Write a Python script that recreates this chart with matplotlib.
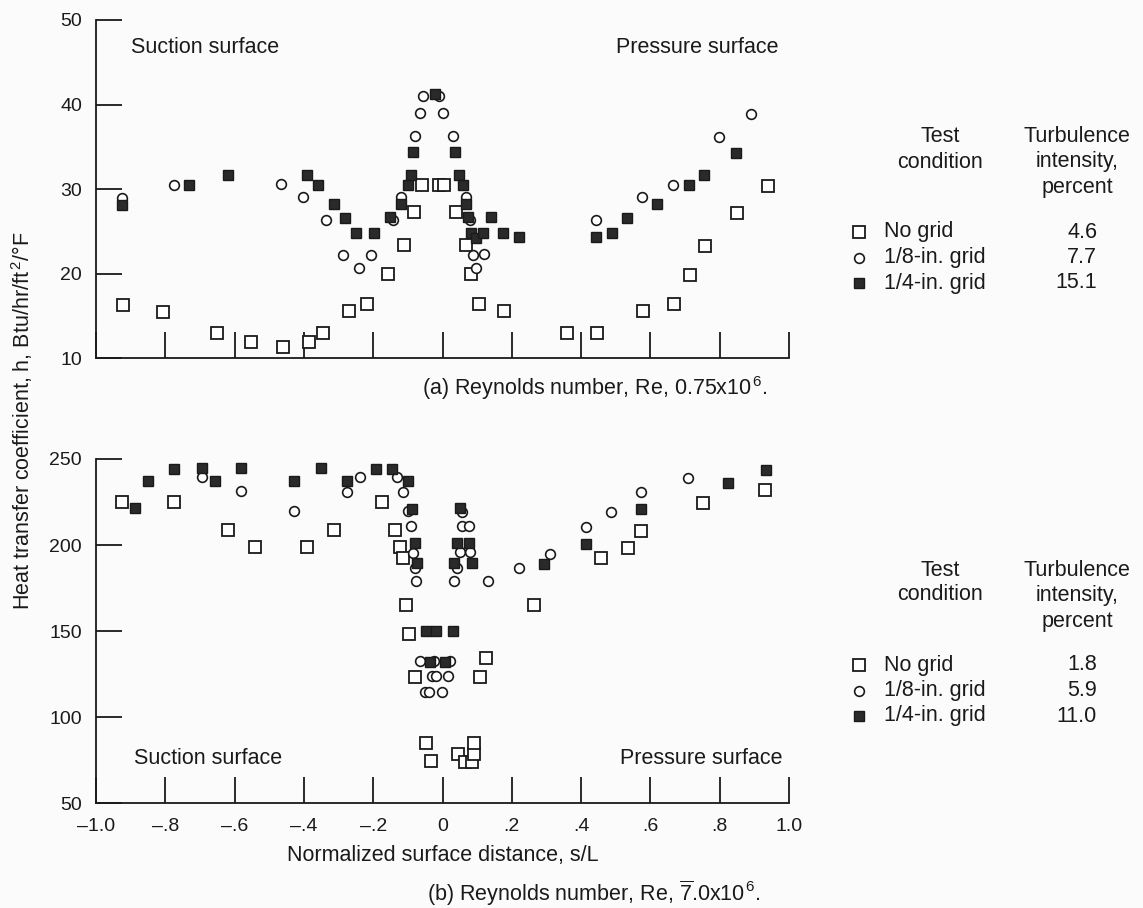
import matplotlib
matplotlib.use("Agg")
import matplotlib.pyplot as plt

plt.rcParams["font.family"] = ["Liberation Sans", "DejaVu Sans"]
plt.rcParams["mathtext.fontset"] = "custom"
plt.rcParams["mathtext.rm"] = "Liberation Sans"
plt.rcParams["mathtext.it"] = "Liberation Sans"
plt.rcParams["mathtext.default"] = "regular"

# (a) Re = 0.75x10^6
a_none_s = [-0.921, -0.806, -0.650, -0.554, -0.460, -0.384, -0.346, -0.271, -0.217, -0.157,
            -0.111, -0.082, -0.060, -0.009, 0.003, 0.040, 0.068, 0.083, 0.105, 0.178,
            0.358, 0.447, 0.579, 0.668, 0.714, 0.758, 0.849, 0.938]
a_none_h = [16.3, 15.5, 13.0, 11.9, 11.3, 11.9, 13.0, 15.6, 16.4, 19.9,
            23.4, 27.3, 30.5, 30.5, 30.5, 27.3, 23.4, 19.9, 16.4, 15.6,
            13.0, 13.0, 15.6, 16.4, 19.8, 23.3, 27.2, 30.4]
a_eighth_s = [-0.926, -0.774, -0.465, -0.404, -0.336, -0.288, -0.242, -0.205, -0.144, -0.120,
              -0.078, -0.064, -0.057, -0.009, 0.001, 0.030, 0.068, 0.078, 0.088, 0.097,
              0.121, 0.444, 0.577, 0.664, 0.799, 0.889]
a_eighth_h = [28.9, 30.5, 30.6, 29.0, 26.3, 22.2, 20.6, 22.2, 26.3, 29.0,
              36.3, 39.0, 41.0, 41.0, 39.0, 36.3, 29.1, 26.3, 22.2, 20.6,
              22.3, 26.3, 29.0, 30.5, 36.2, 38.9]
a_quarter_s = [-0.926, -0.733, -0.618, -0.390, -0.359, -0.313, -0.282, -0.250, -0.199, -0.151,
               -0.120, -0.099, -0.092, -0.084, -0.023, 0.036, 0.048, 0.059, 0.068, 0.073,
               0.083, 0.097, 0.116, 0.139, 0.176, 0.220, 0.444, 0.488, 0.532, 0.620,
               0.711, 0.756, 0.848]
a_quarter_h = [28.1, 30.5, 31.6, 31.6, 30.5, 28.2, 26.6, 24.8, 24.8, 26.7,
               28.2, 30.5, 31.6, 34.4, 41.3, 34.4, 31.6, 30.5, 28.2, 26.7,
               24.8, 24.2, 24.8, 26.7, 24.8, 24.3, 24.3, 24.8, 26.6, 28.2,
               30.5, 31.6, 34.3]

# (b) Re = 7.0x10^6
b_none_s = [-0.926, -0.774, -0.618, -0.542, -0.390, -0.313, -0.176, -0.138, -0.122, -0.115,
            -0.105, -0.097, -0.080, -0.047, -0.032, 0.046, 0.064, 0.086, 0.090, 0.090,
            0.107, 0.125, 0.263, 0.458, 0.535, 0.573, 0.752, 0.932]
b_none_h = [225, 225, 208.7, 199, 199, 208.7, 225, 208.7, 199, 192.4,
            165, 148.3, 123, 85, 74.2, 78.2, 74, 74, 78.2, 85,
            123, 134.5, 165, 192.3, 198.4, 208.1, 224.2, 231.8]
b_eighth_s = [-0.695, -0.581, -0.429, -0.275, -0.238, -0.130, -0.115, -0.101, -0.090, -0.084,
              -0.080, -0.076, -0.066, -0.051, -0.040, -0.030, -0.025, -0.018, -0.001, 0.017,
              0.023, 0.033, 0.041, 0.051, 0.057, 0.057, 0.076, 0.080, 0.131, 0.220,
              0.309, 0.413, 0.485, 0.573, 0.708]
b_eighth_h = [239.7, 231.2, 219.5, 230.8, 239.7, 239.7, 230.8, 219.5, 211, 195.5,
              186.6, 179.2, 132.7, 114.5, 114.5, 123.8, 132.7, 123.8, 114.5, 124,
              132.7, 179.2, 186.5, 195.7, 219.4, 211, 211, 195.7, 179.2, 186.8,
              195, 210.6, 219.2, 230.6, 238.8]
b_quarter_s = [-0.887, -0.849, -0.774, -0.695, -0.658, -0.581, -0.429, -0.352, -0.275, -0.192,
               -0.145, -0.101, -0.088, -0.078, -0.074, -0.049, -0.036, -0.020, 0.007, 0.030,
               0.032, 0.041, 0.051, 0.076, 0.086, 0.293, 0.413, 0.573, 0.825, 0.935]
b_quarter_h = [221.5, 237.4, 244.4, 244.8, 237.4, 244.8, 237.4, 244.8, 237.4, 244.4,
               244.4, 237, 221, 201, 189.3, 150.2, 132, 150.2, 132, 150,
               189.7, 201.3, 221.3, 201.3, 189.7, 189, 200.3, 220.7, 236.2, 243.6]

conditions = ["No grid", "1/8-in. grid", "1/4-in. grid"]
a_intensity = ["4.6", "7.7", "15.1"]
b_intensity = ["1.8", "5.9", "11.0"]
x_ticks = [-1.0, -0.8, -0.6, -0.4, -0.2, 0.0, 0.2, 0.4, 0.6, 0.8, 1.0]
x_ticklabels = ["\u20131.0", "\u2013.8", "\u2013.6", "\u2013.4", "\u2013.2", "0",
                ".2", ".4", ".6", ".8", "1.0"]

W, H = 1143, 908
INK = "#1a1a1a"
FS = 15.5
TFS = 14
styles = [
    dict(marker="s", ms=8, mfc="white", mec=INK, mew=1.3),
    dict(marker="o", ms=7, mfc="white", mec=INK, mew=1.2),
    dict(marker="s", ms=7, mfc="#2a2a2a", mec=INK, mew=1.0),
]


def fx(x):
    return x / W


def fy(y):
    return 1 - y / H


def style_axis(ax, ylim, yticks):
    ax.set_xlim(-1.0, 1.0)
    ax.set_ylim(*ylim)
    ax.set_yticks(yticks)
    ax.set_xticks(x_ticks)
    for side in ["top", "right"]:
        ax.spines[side].set_visible(False)
    for side in ["left", "bottom"]:
        ax.spines[side].set_linewidth(1.3)
        ax.spines[side].set_color(INK)
    ax.tick_params(direction="in", length=19, width=1.3, color=INK,
                   labelsize=TFS, labelcolor=INK)
    ax.tick_params(axis="y", pad=10)
    ax.tick_params(axis="x", pad=11)
    ax.patch.set_alpha(0)


def draw_series(ax, series):
    for (s, h), st in zip(series, styles):
        ax.plot(s, h, linestyle="none", clip_on=False, **st)


def draw_legend(fig, top, values):
    fig.text(fx(940), fy(top), "Test", ha="center", va="center", fontsize=FS, color=INK)
    fig.text(fx(940), fy(top + 25), "condition", ha="center", va="center", fontsize=FS, color=INK)
    fig.text(fx(1077), fy(top), "Turbulence", ha="center", va="center", fontsize=FS, color=INK)
    fig.text(fx(1077), fy(top + 25), "intensity,", ha="center", va="center", fontsize=FS, color=INK)
    fig.text(fx(1077), fy(top + 51), "percent", ha="center", va="center", fontsize=FS, color=INK)
    for i, (name, val) in enumerate(zip(conditions, values)):
        yy = top + 95 + 25.5 * i
        fig.add_artist(plt.Line2D([fx(859)], [fy(yy)], transform=fig.transFigure,
                                  linestyle="none", **styles[i]))
        fig.text(fx(884), fy(yy), name, ha="left", va="center", fontsize=FS, color=INK)
        fig.text(fx(1097), fy(yy), val, ha="right", va="center", fontsize=FS, color=INK)


fig = plt.figure(figsize=(W / 100, H / 100), dpi=100)
fig.patch.set_facecolor("#fbfbfb")

ax1 = fig.add_axes([fx(96), fy(358), fx(789) - fx(96), fy(20) - fy(358)])
style_axis(ax1, (10, 50), [10, 20, 30, 40, 50])
ax1.set_xticklabels([])
draw_series(ax1, [(a_none_s, a_none_h), (a_eighth_s, a_eighth_h), (a_quarter_s, a_quarter_h)])
ax1.text(-0.9, 46.8, "Suction surface", fontsize=FS, ha="left", va="center", color=INK)
ax1.text(0.97, 46.8, "Pressure surface", fontsize=FS, ha="right", va="center", color=INK)

ax2 = fig.add_axes([fx(96), fy(803), fx(789) - fx(96), fy(459) - fy(803)])
style_axis(ax2, (50, 250), [50, 100, 150, 200, 250])
ax2.set_xticklabels(x_ticklabels)
draw_series(ax2, [(b_none_s, b_none_h), (b_eighth_s, b_eighth_h), (b_quarter_s, b_quarter_h)])
ax2.text(-0.89, 76, "Suction surface", fontsize=FS, ha="left", va="center", color=INK)
ax2.text(0.98, 76, "Pressure surface", fontsize=FS, ha="right", va="center", color=INK)

fig.text(fx(443), fy(856), "Normalized surface distance, s/L",
         ha="center", va="center", fontsize=FS, color=INK)
fig.text(fx(595), fy(388), r"(a) Reynolds number, Re, 0.75x10$^{\,6}$.",
         ha="center", va="center", fontsize=FS, color=INK)
fig.text(fx(594), fy(893), r"(b) Reynolds number, Re, $\overline{7}$.0x10$^{\,6}$.",
         ha="center", va="center", fontsize=FS, color=INK)
fig.text(fx(22), fy(421), r"Heat transfer coefficient, h, Btu/hr/ft$^{\,2}$/°F",
         rotation=90, ha="center", va="center", fontsize=FS, color=INK)

draw_legend(fig, 137, a_intensity)
draw_legend(fig, 570, b_intensity)

fig.savefig("out.png", dpi=100, facecolor=fig.get_facecolor())
